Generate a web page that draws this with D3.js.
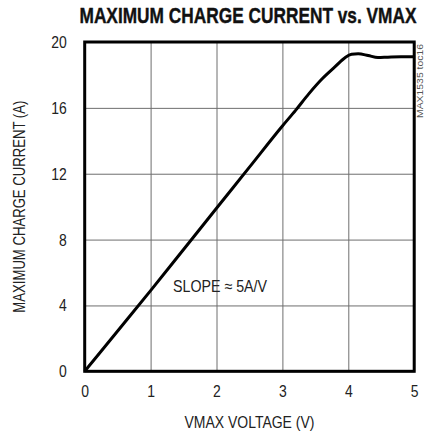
<!DOCTYPE html>
<html>
<head>
<meta charset="utf-8">
<script src="https://cdn.jsdelivr.net/npm/d3@7"></script>
<style>
  body { margin: 0; background: #fff; }
  text { font-family: "Liberation Sans", Arial, sans-serif; fill: #222; }
  .axis .domain { display: none; }
  .axis line { stroke: #6e6e6e; stroke-width: 1; }
</style>
</head>
<body>
<div id="chart"></div>
<script>
// values
var voltage = [0, 0.5, 1, 1.5, 2, 2.5, 3, 3.2, 3.4, 3.6, 3.8, 3.95, 4.05, 4.15, 4.3, 4.45, 4.6, 4.8, 5];
var current = [0, 2.45, 4.9, 7.4, 9.9, 12.4, 14.9, 15.85, 16.85, 17.75, 18.5, 19.05, 19.25, 19.28, 19.18, 19.06, 19.08, 19.1, 19.1];
var xTicks = [0, 1, 2, 3, 4, 5];
var yTicks = [0, 4, 8, 12, 16, 20];

var width = 424, height = 434;
var plotL = 84.7, plotR = 414.2, plotT = 42, plotB = 371.3;

// squeeze text horizontally, like a condensed face
function narrow(sel, k) {
    sel.each(function() {
        var w = this.getComputedTextLength();
        d3.select(this)
            .attr('textLength', w * k)
            .attr('lengthAdjust', 'spacingAndGlyphs');
    });
}

var svg = d3.select('#chart').append('svg')
    .attr('width', width)
    .attr('height', height);

var x = d3.scaleLinear().domain([0, 5]).range([plotL, plotR]);
var y = d3.scaleLinear().domain([0, 20]).range([plotB, plotT]);

// title
svg.append('text')
    .attr('x', 248)
    .attr('y', 23)
    .attr('text-anchor', 'middle')
    .attr('font-weight', 'bold')
    .attr('font-size', 22)
    .attr('textLength', 337)
    .attr('lengthAdjust', 'spacingAndGlyphs')
    .style('fill', '#111')
    .style('stroke', '#111')
    .style('stroke-width', 0.4)
    .text('MAXIMUM CHARGE CURRENT vs. VMAX');

// grid + tick labels
var xAxis = d3.axisBottom(x).tickValues(xTicks).tickFormat(d3.format('d'))
    .tickSizeInner(-(plotB - plotT)).tickSizeOuter(0).tickPadding(14);
var yAxis = d3.axisLeft(y).tickValues(yTicks).tickFormat(d3.format('d'))
    .tickSizeInner(-(plotR - plotL)).tickSizeOuter(0).tickPadding(18);

svg.append('g')
    .attr('class', 'axis axis--x')
    .attr('transform', 'translate(0,' + plotB + ')')
    .call(xAxis)
    .selectAll('text')
        .attr('font-size', 17)
        .call(narrow, 0.82);

svg.append('g')
    .attr('class', 'axis axis--y')
    .attr('transform', 'translate(' + plotL + ',0)')
    .call(yAxis)
    .selectAll('text')
        .attr('font-size', 17)
        .call(narrow, 0.82);

// the curve
var line = d3.line()
    .x(function(d, i) { return x(voltage[i]); })
    .y(function(d) { return y(d); })
    .curve(d3.curveMonotoneX);

svg.append('path')
    .datum(current)
    .attr('fill', 'none')
    .attr('stroke', '#000')
    .attr('stroke-width', 3)
    .attr('stroke-linejoin', 'round')
    .attr('d', line);

// frame
svg.append('rect')
    .attr('x', plotL)
    .attr('y', plotT)
    .attr('width', plotR - plotL)
    .attr('height', plotB - plotT)
    .attr('fill', 'none')
    .attr('stroke', '#000')
    .attr('stroke-width', 3);

// labels
svg.append('text')
    .attr('text-anchor', 'middle')
    .attr('x', (plotL + plotR) / 2)
    .attr('y', 428)
    .attr('font-size', 17)
    .attr('textLength', 130)
    .attr('lengthAdjust', 'spacingAndGlyphs')
    .text('VMAX VOLTAGE (V)');

svg.append('text')
    .attr('text-anchor', 'middle')
    .attr('transform', 'translate(25,' + (plotT + plotB) / 2 + ')rotate(-90)')
    .attr('font-size', 16.5)
    .attr('textLength', 212)
    .attr('lengthAdjust', 'spacingAndGlyphs')
    .text('MAXIMUM CHARGE CURRENT (A)');

svg.append('text')
    .attr('x', 173)
    .attr('y', 292)
    .attr('font-size', 17)
    .attr('textLength', 94)
    .attr('lengthAdjust', 'spacingAndGlyphs')
    .text('SLOPE \u2248 5A/V');

svg.append('text')
    .attr('text-anchor', 'end')
    .attr('transform', 'translate(423,44)rotate(-90)')
    .attr('font-size', 9.5)
    .attr('textLength', 74)
    .attr('lengthAdjust', 'spacingAndGlyphs')
    .style('fill', '#555')
    .text('MAX1535 toc16');
</script>
</body>
</html>
